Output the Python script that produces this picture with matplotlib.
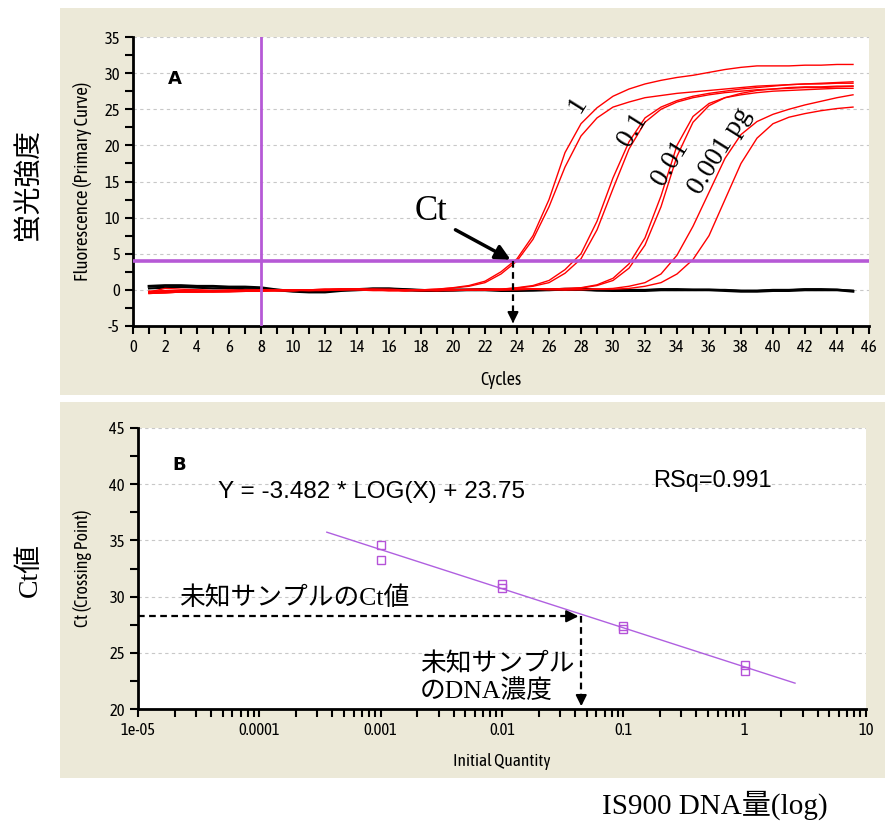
import matplotlib
matplotlib.use('Agg')
from matplotlib import pyplot as plt
from matplotlib import font_manager
from matplotlib.patches import Rectangle
from matplotlib.ticker import MultipleLocator, LogLocator, NullFormatter
import numpy as np
import os

# ---- panel A: amplification curves (fluorescence per cycle) ----
cycles = np.arange(1, 46)

curve_1a = [-0.3, 0.2, 0.1, 0.0, -0.1, 0.0, -0.1, -0.1, -0.1, -0.1, 0.0, 0.1, 0.1, 0.1, 0.0, -0.1, -0.1, 0.0, 0.1,
            0.3, 0.6, 1.2, 2.5, 4.3, 7.5, 12.5, 19.0, 23.0, 25.2, 26.8, 27.8, 28.5, 29.0, 29.4, 29.7, 30.1, 30.5,
            30.8, 31.0, 31.0, 31.0, 31.1, 31.1, 31.2, 31.2]
curve_1b = [-0.4, -0.3, -0.2, -0.2, -0.1, -0.1, 0.0, 0.0, -0.1, -0.1, -0.1, 0.0, 0.0, 0.1, 0.0, 0.0, -0.1, 0.0, 0.1,
            0.25, 0.5, 1.0, 2.2, 4.0, 7.0, 11.5, 17.0, 21.3, 23.8, 25.3, 26.0, 26.6, 26.9, 27.2, 27.4, 27.6, 27.8,
            28.0, 28.2, 28.3, 28.4, 28.5, 28.5, 28.6, 28.6]
curve_01a = [-0.5, -0.4, -0.3, -0.3, -0.2, -0.2, -0.1, -0.1, -0.1, -0.1, 0.0, 0.0, 0.1, 0.1, 0.0, 0.0, -0.1, -0.1,
             0.0, 0.0, 0.1, 0.1, 0.1,
             0.3, 0.6, 1.3, 2.8, 5.0, 9.5, 15.5, 20.5, 23.8, 25.3, 26.2, 26.8, 27.2, 27.5, 27.8, 28.0, 28.2, 28.4,
             28.5, 28.6, 28.7, 28.8]
curve_01b = [-0.2, -0.2, -0.1, -0.2, -0.3, -0.3, -0.2, -0.1, 0.0, 0.0, 0.0, 0.1, 0.1, 0.0, -0.1, -0.1, -0.1, 0.0,
             0.0, 0.0, 0.0, 0.1, 0.1,
             0.25, 0.5, 1.0, 2.3, 4.3, 8.3, 14.0, 19.5, 23.2, 25.0, 26.0, 26.6, 27.0, 27.3, 27.5, 27.7, 27.8, 27.9,
             28.0, 28.0, 28.1, 28.2]
curve_001a = [-0.3, -0.3, -0.2, -0.2, -0.2, -0.1, -0.1, 0.0, 0.0, 0.0, -0.1, -0.1, 0.0, 0.0, 0.1, 0.1, 0.0, 0.0,
              -0.1, -0.1, 0.0, 0.0, 0.0, 0.1, 0.1, 0.1, 0.2,
              0.3, 0.7, 1.6, 3.6, 7.2, 13.0, 20.0, 24.0, 25.8, 26.6, 27.0, 27.3, 27.5, 27.6, 27.7, 27.8, 27.9, 27.9]
curve_001b = [-0.4, -0.4, -0.3, -0.3, -0.2, -0.2, -0.2, -0.1, -0.1, 0.0, 0.0, 0.0, 0.1, 0.1, 0.0, -0.1, -0.1, 0.0,
              0.0, 0.0, 0.0, 0.0, 0.1, 0.1, 0.1, 0.1, 0.1,
              0.25, 0.6, 1.3, 3.0, 6.2, 11.5, 18.5, 23.2, 25.5, 26.6, 27.2, 27.6, 27.8, 28.0, 28.1, 28.1, 28.2, 28.2]
curve_0001a = [-0.5, -0.4, -0.3, -0.3, -0.3, -0.2, -0.2, -0.1, -0.1, -0.1, 0.0, 0.0, 0.0, 0.1, 0.1, 0.0, 0.0, -0.1,
               -0.1, 0.0, 0.0, 0.0, 0.0, 0.1, 0.1, 0.0, 0.0, 0.1, 0.1,
               0.2, 0.5, 1.0, 2.2, 4.8, 8.8, 13.5, 18.2, 21.5, 23.3, 24.3, 25.0, 25.6, 26.1, 26.6, 27.0]
curve_0001b = [-0.2, -0.1, -0.1, 0.0, -0.1, -0.2, -0.2, -0.2, -0.1, -0.1, 0.0, 0.0, 0.1, 0.1, 0.0, 0.0, -0.1, -0.1,
               -0.1, 0.0, 0.0, 0.0, 0.0, 0.0, 0.1, 0.1, 0.0, 0.0, 0.1, 0.1,
               0.2, 0.5, 1.0, 2.2, 4.2, 7.5, 12.5, 17.5, 21.0, 23.0, 23.9, 24.4, 24.8, 25.1, 25.3]
red_curves = [curve_1a, curve_1b, curve_01a, curve_01b, curve_001a, curve_001b, curve_0001a, curve_0001b]

neg_1 = [0.5, 0.6, 0.6, 0.5, 0.5, 0.4, 0.4, 0.3, 0.0, -0.2, -0.3, -0.3, -0.1, 0.0, 0.1, 0.1, 0.0, -0.1, -0.1, 0.0,
         0.0, 0.0, -0.1, -0.1, 0.0, 0.0, 0.1, 0.1, 0.0, -0.1, -0.1, -0.1, 0.0, 0.0, 0.0, 0.0, -0.1, -0.2, -0.2, -0.1,
         -0.1, 0.0, 0.0, 0.0, -0.2]
neg_2 = [0.2, 0.3, 0.4, 0.3, 0.2, 0.2, 0.1, 0.1, 0.0, -0.1, -0.2, -0.1, 0.0, 0.1, 0.2, 0.2, 0.1, 0.0, -0.1, -0.1,
         0.0, 0.1, 0.0, -0.1, -0.1, 0.0, 0.0, 0.0, -0.1, -0.1, 0.0, 0.0, 0.1, 0.1, 0.0, 0.0, 0.0, -0.1, -0.1, 0.0,
         0.0, 0.1, 0.1, 0.0, -0.1]

threshold = 4.0
baseline_end = 8
ct_sample = 23.75

curve_labels = ['1', '0.1', '0.01', '0.001 pg']
label_pos = [(27.8, 25.6), (31.2, 22.2), (33.6, 17.6), (36.7, 19.2)]

# ---- panel B: standard curve ----
quantity = [0.001, 0.001, 0.01, 0.01, 0.1, 0.1, 1, 1]
ct_values = [34.6, 33.3, 31.1, 30.8, 27.4, 27.1, 23.9, 23.4]
fit_x = [3.6e-4, 2.6]
fit_y = [35.73, 22.30]
unknown_ct = 28.25
unknown_qty = 0.045
qty_ticks = [1e-5, 1e-4, 1e-3, 1e-2, 1e-1, 1, 10]
qty_labels = ['1e-05', '0.0001', '0.001', '0.01', '0.1', '1', '10']

# narrow sans face for the instrument-style tick texts, if one is installed
narrow = 'Liberation Sans'
for f in font_manager.fontManager.ttflist:
    if os.path.basename(f.fname).startswith('AsapCondensed-Regular'):
        narrow = f.name
        break
serif_jp = ['Liberation Serif', 'Noto Sans CJK JP']

plt.rcParams['font.family'] = [narrow, 'DejaVu Sans']
plt.rcParams['axes.unicode_minus'] = False
purple = '#b659d6'
beige = '#ECE9D8'

fig = plt.figure(figsize=(8.91, 8.26), dpi=100)
W, H = 891.0, 826.0
fig.patches.append(Rectangle((60 / W, 1 - 395 / H), 825 / W, 387 / H, transform=fig.transFigure,
                             facecolor=beige, edgecolor='none', zorder=-5))
fig.patches.append(Rectangle((60 / W, 1 - 778 / H), 825 / W, 376 / H, transform=fig.transFigure,
                             facecolor=beige, edgecolor='none', zorder=-5))


def style_axes(ax):
    for s in ['top', 'right']:
        ax.spines[s].set_visible(False)
    for s in ['left', 'bottom']:
        ax.spines[s].set_linewidth(2)
    ax.tick_params(which='both', direction='out', width=1.5, length=6, labelsize=12, color='black')
    ax.yaxis.grid(True, which='major', color='#c8c8c8', linestyle=(0, (3, 3)), linewidth=0.8)
    ax.set_axisbelow(True)


# ---------------- panel A ----------------
axA = fig.add_axes([133 / W, 1 - 326 / H, 736 / W, 289 / H])
style_axes(axA)
for c in red_curves:
    axA.plot(cycles, c, color='red', lw=1.0, zorder=3)
axA.plot(cycles, neg_1, color='black', lw=2.0, zorder=2)
axA.plot(cycles, neg_2, color='black', lw=1.5, zorder=2)
axA.axhline(threshold, color=purple, lw=2.6, zorder=4)
axA.axvline(baseline_end, color=purple, lw=2.0, zorder=4)

axA.set_xlim(0, 46)
axA.set_ylim(-5, 35)
axA.xaxis.set_major_locator(MultipleLocator(2))
axA.xaxis.set_minor_locator(MultipleLocator(1))
axA.yaxis.set_major_locator(MultipleLocator(5))
axA.yaxis.set_minor_locator(MultipleLocator(2.5))
axA.set_xlabel('Cycles', fontsize=13)
axA.set_ylabel('Fluorescence (Primary Curve)', fontsize=13.5)
axA.xaxis.set_label_coords(0.5, -0.155)
axA.yaxis.set_label_coords(-0.056, 0.5)

axA.text(2.6, 29.2, 'A', fontsize=13, fontweight='bold', family=['DejaVu Sans'], ha='center', va='center')
for lab, (lx, ly) in zip(curve_labels, label_pos):
    axA.text(lx, ly, lab, rotation=58, fontsize=20, family=serif_jp, ha='center', va='center',
             rotation_mode='anchor', zorder=6)

axA.text(18.6, 10.8, 'Ct', fontsize=25, family=serif_jp, ha='center', va='center')
axA.annotate('', xy=(ct_sample, threshold), xytext=(20.0, 8.5),
             arrowprops=dict(arrowstyle='-|>', color='black', lw=2.5, mutation_scale=22), zorder=7)
axA.plot([ct_sample, ct_sample], [threshold, -3.8], color='black', lw=1.6, ls=(0, (3, 2)), zorder=7)
axA.annotate('', xy=(ct_sample, -5), xytext=(ct_sample, -3.9),
             arrowprops=dict(arrowstyle='-|>', color='black', lw=1.5, mutation_scale=16), zorder=7)

# ---------------- panel B ----------------
axB = fig.add_axes([138 / W, 1 - 709 / H, 728 / W, 281 / H])
style_axes(axB)
axB.set_xscale('log')
axB.plot(fit_x, fit_y, color='#b060e0', lw=1.0, zorder=3)
axB.plot(quantity, ct_values, ls='none', marker='s', ms=5.5, mfc='none', mec='#b552d8', mew=1.0, zorder=4)
axB.set_xlim(1e-5, 10)
axB.set_ylim(20, 45)
axB.set_xticks(qty_ticks, labels=qty_labels)
axB.xaxis.set_minor_locator(LogLocator(base=10, subs=np.arange(2, 10)))
axB.xaxis.set_minor_formatter(NullFormatter())
axB.yaxis.set_major_locator(MultipleLocator(5))
axB.yaxis.set_minor_locator(MultipleLocator(2.5))
axB.set_xlabel('Initial Quantity', fontsize=12.5)
axB.set_ylabel('Ct (Crossing Point)', fontsize=13)
axB.xaxis.set_label_coords(0.5, -0.155)
axB.yaxis.set_label_coords(-0.063, 0.5)

axB.text(2.2e-5, 41.7, 'B', fontsize=13, fontweight='bold', family=['DejaVu Sans'], ha='center', va='center')
axB.text(4.6e-5, 39.3, 'Y = -3.482 * LOG(X) + 23.75', fontsize=17.5, family=['Liberation Sans'],
         ha='left', va='center')
axB.text(0.175, 40.3, 'RSq=0.991', fontsize=17, family=['Liberation Sans'], ha='left', va='center')
axB.text(2.2e-5, 29.9, '未知サンプルのCt値', fontsize=18.5, family=serif_jp, ha='left', va='center')
axB.text(2.1e-3, 22.8, '未知サンプル\nのDNA濃度', fontsize=18.5, family=serif_jp, ha='left', va='center',
         linespacing=1.15)

axB.plot([1e-5, unknown_qty * 0.8], [unknown_ct, unknown_ct], color='black', lw=1.6, ls=(0, (3, 2)), zorder=6)
axB.annotate('', xy=(unknown_qty, unknown_ct), xytext=(unknown_qty * 0.8, unknown_ct),
             arrowprops=dict(arrowstyle='-|>', color='black', lw=1.5, mutation_scale=18), zorder=7)
axB.plot([unknown_qty, unknown_qty], [unknown_ct, 20.9], color='black', lw=1.6, ls=(0, (3, 2)), zorder=6)
axB.annotate('', xy=(unknown_qty, 20), xytext=(unknown_qty, 21.0),
             arrowprops=dict(arrowstyle='-|>', color='black', lw=1.5, mutation_scale=16), zorder=7)

# ---------------- outer labels ----------------
fig.text(30 / W, 1 - 185 / H, '蛍光強度', rotation=90, fontsize=20, family=serif_jp, ha='center', va='center')
fig.text(30 / W, 1 - 570 / H, 'Ct値', rotation=90, fontsize=20, family=serif_jp, ha='center', va='center')
fig.text(715 / W, 1 - 805 / H, 'IS900 DNA量(log)', fontsize=21, family=serif_jp, ha='center', va='center')

fig.savefig('out.png', dpi=100, facecolor='white')
